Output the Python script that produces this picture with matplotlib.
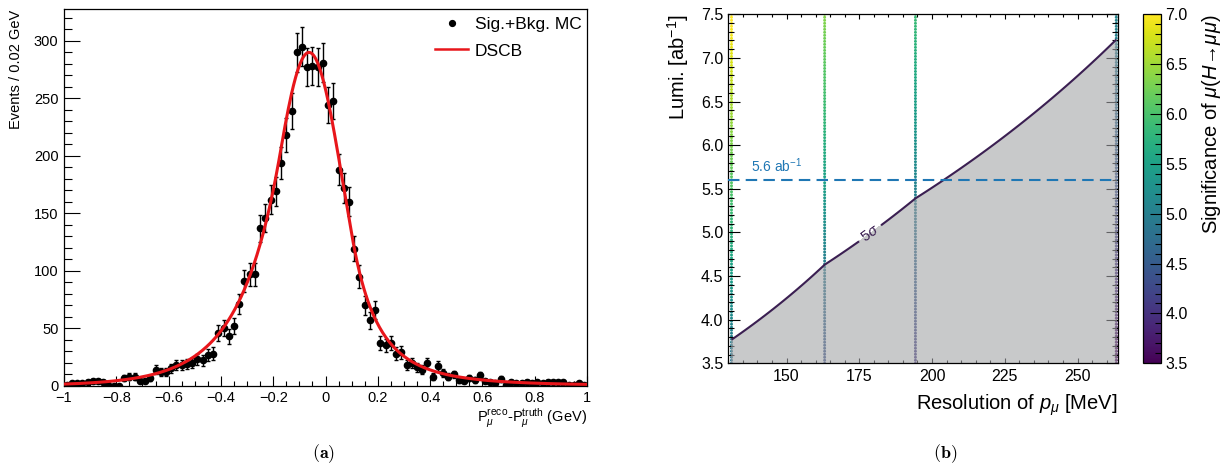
import numpy as np
import matplotlib
matplotlib.use("Agg")
import matplotlib.pyplot as plt
from matplotlib.lines import Line2D
from matplotlib.ticker import MultipleLocator, FuncFormatter, FormatStrFormatter

plt.rcParams["font.family"] = ["Liberation Sans", "DejaVu Sans"]
plt.rcParams["mathtext.fontset"] = "custom"
plt.rcParams["mathtext.rm"] = "Liberation Sans"
plt.rcParams["mathtext.it"] = "Liberation Sans:italic"
plt.rcParams["mathtext.bf"] = "Liberation Sans:bold"

# ---------------- (a) momentum residual histogram ----------------
hist_range = (-1.0, 1.0)
n_bins = 100
counts = [
    1, 2, 2, 2, 3, 4, 4, 3, 1, 0,
    0, 7, 8, 8, 4, 4, 7, 14, 12, 12,
    15, 18, 18, 19, 20, 23, 22, 27, 28, 46,
    50, 43, 52, 71, 91, 97, 97, 137, 146, 162,
    169, 194, 218, 239, 290, 295, 277, 278, 277, 281,
    244, 248, 188, 172, 160, 119, 95, 70, 57, 66,
    37, 35, 37, 28, 29, 18, 20, 16, 14, 20,
    8, 17, 11, 8, 10, 5, 4, 7, 5, 9,
    4, 3, 2, 6, 1, 3, 2, 2, 3, 2,
    3, 2, 3, 3, 3, 3, 1, 1, 2, 1,
]

# double-sided Crystal Ball fit parameters
dscb_norm = 290.0
dscb_mean = -0.063
dscb_sigma = 0.13
dscb_alpha_lo, dscb_n_lo = 0.85, 30.0
dscb_alpha_hi, dscb_n_hi = 1.3, 4.0

# ---------------- (b) luminosity vs. resolution scan ----------------
resolution_mev = [131.1, 163.1, 194.3, 263.3]
lumi_5sigma = [3.77, 4.63, 5.39, 7.21]   # luminosity giving 5 sigma at each resolution
target_lumi = 5.6
sig_range = (3.5, 7.0)


def dscb(x):
    t = (x - dscb_mean) / dscb_sigma
    y = np.exp(-0.5 * t ** 2)
    lo = t < -dscb_alpha_lo
    hi = t > dscb_alpha_hi
    y[lo] = np.exp(-0.5 * dscb_alpha_lo ** 2) * (
        1 + dscb_alpha_lo * (-t[lo] - dscb_alpha_lo) / dscb_n_lo) ** (-dscb_n_lo)
    y[hi] = np.exp(-0.5 * dscb_alpha_hi ** 2) * (
        1 + dscb_alpha_hi * (t[hi] - dscb_alpha_hi) / dscb_n_hi) ** (-dscb_n_hi)
    return dscb_norm * y


fig = plt.figure(figsize=(12.32, 4.71), dpi=100)

# ---------- panel (a) ----------
ax = fig.add_axes([64 / 1232, 1 - 385.7 / 471, 523 / 1232, 376.4 / 471])
edges = np.linspace(hist_range[0], hist_range[1], n_bins + 1)
centers = 0.5 * (edges[:-1] + edges[1:])
vals = np.asarray(counts, dtype=float)
ax.errorbar(centers, vals, yerr=np.sqrt(vals), fmt="o", color="black",
            ms=4.5, elinewidth=1.0, capsize=1.3, capthick=1.0, zorder=3)
xf = np.linspace(hist_range[0], hist_range[1], 500)
ax.plot(xf, dscb(xf), color="#e8161b", lw=2.2, zorder=4)

ax.set_xlim(*hist_range)
ax.set_ylim(0, 327.5)
ax.xaxis.set_major_locator(MultipleLocator(0.2))
ax.xaxis.set_minor_locator(MultipleLocator(0.05))
ax.yaxis.set_major_locator(MultipleLocator(50))
ax.yaxis.set_minor_locator(MultipleLocator(10))
ax.xaxis.set_major_formatter(FuncFormatter(
    lambda v, p: f"{round(v, 6) + 0.0:g}".replace("-", "\u2212")))
ax.tick_params(which="both", direction="in", top=False, right=False,
               labelsize=10.5, width=0.8)
ax.tick_params(axis="y", which="major", length=11.5, pad=4)
ax.tick_params(axis="y", which="minor", length=5.6)
ax.tick_params(axis="x", which="major", length=7.2, pad=4)
ax.tick_params(axis="x", which="minor", length=3.6)
for s in ax.spines.values():
    s.set_linewidth(0.9)

ax.set_ylabel("Events / 0.02 GeV", fontsize=10.5, loc="top")
ax.yaxis.set_label_coords(-0.078, 1.0)
ax.set_xlabel(r"P$_{\mu}^{\rm reco}$-P$_{\mu}^{\rm truth}$ (GeV)",
              fontsize=10.5, loc="right")
ax.xaxis.set_label_coords(1.0, -0.054)

handles = [Line2D([], [], marker="o", color="black", ls="none", ms=4.2),
           Line2D([], [], color="#e8161b", lw=1.8)]
ax.legend(handles, ["Sig.+Bkg. MC", "DSCB"], loc="upper right",
          bbox_to_anchor=(0.990, 0.981), frameon=False, fontsize=12.5,
          borderpad=0, borderaxespad=0, handlelength=1.9,
          handletextpad=0.4, labelspacing=0.68)

# ---------- panel (b) ----------
bx = fig.add_axes([728.3 / 1232, 1 - 363.3 / 471, 389.4 / 1232, 349 / 471])
res = np.asarray(resolution_mev)
l5 = np.asarray(lumi_5sigma)
lumi_grid = np.linspace(3.5, 7.5, 117)
# significance grows with the square root of the integrated luminosity
sig = 5.0 * np.sqrt(lumi_grid[:, None] / l5[None, :])

RR, LL = np.meshgrid(res, lumi_grid)
sc = bx.scatter(RR.ravel(), LL.ravel(), c=sig.ravel(), cmap="viridis",
                vmin=sig_range[0], vmax=sig_range[1], marker="o", s=4.5,
                linewidths=0, zorder=1)
bx.contourf(res, lumi_grid, sig, levels=[0, 5], colors=["#a4a5a8"],
            alpha=0.6, zorder=2)
cs = bx.contour(res, lumi_grid, sig, levels=[5], colors=["#3b1f52"],
                linewidths=1.5, zorder=3)
bx.clabel(cs, fmt={5: r"5$\sigma$"}, manual=[(178.7, 4.99)], fontsize=10.5,
          inline=True, inline_spacing=4)

bx.axhline(target_lumi, color="#1f77b4", ls=(0, (5.5, 3.0)), lw=1.5, zorder=4)
bx.text(137.8, target_lumi + 0.06, r"5.6 ab$^{-1}$", color="#1f77b4",
        fontsize=10, ha="left", va="bottom", zorder=5)

bx.set_xlim(130.0, 263.8)
bx.set_ylim(3.5, 7.5)
bx.xaxis.set_major_locator(MultipleLocator(25))
bx.xaxis.set_minor_locator(MultipleLocator(5))
bx.yaxis.set_major_locator(MultipleLocator(0.5))
bx.yaxis.set_minor_locator(MultipleLocator(0.1))
bx.yaxis.set_major_formatter(FormatStrFormatter("%.1f"))
bx.tick_params(which="both", direction="in", top=True, right=True,
               labelsize=11.5, width=0.8)
bx.tick_params(axis="y", which="major", length=8.6, pad=3.5)
bx.tick_params(axis="y", which="minor", length=4.3)
bx.tick_params(axis="x", which="major", length=3.8, pad=4)
bx.tick_params(axis="x", which="minor", length=2.3)
for s in bx.spines.values():
    s.set_linewidth(0.9)

bx.set_xlabel(r"Resolution of $p_{\mu}$ [MeV]", fontsize=14.5, loc="right")
bx.xaxis.set_label_coords(1.0, -0.085)
bx.set_ylabel(r"Lumi. [ab$^{-1}$]", fontsize=14.5, loc="top")
bx.yaxis.set_label_coords(-0.095, 1.0)

cax = fig.add_axes([1143 / 1232, 1 - 363.3 / 471, 18 / 1232, 349 / 471])
cb = fig.colorbar(sc, cax=cax)
cb.set_ticks(np.arange(3.5, 7.01, 0.5))
cb.ax.yaxis.set_minor_locator(MultipleLocator(0.1))
cb.ax.yaxis.set_major_formatter(FormatStrFormatter("%.1f"))
cb.ax.tick_params(which="both", direction="in", right=True, left=False,
                  labelsize=11.5, width=0.8)
cb.ax.tick_params(which="major", length=8.0, pad=3)
cb.ax.tick_params(which="minor", length=4.3)
cb.outline.set_linewidth(0.9)
cb.set_label(r"Significance of $\mu(H\!\rightarrow\!\mu\mu)$", fontsize=14.5,
             loc="top")
cb.ax.yaxis.set_label_coords(3.15, 1.0)

# ---------- captions ----------
fig.text(324 / 1232, 1 - 454 / 471, r"$\mathbf{(a)}$", math_fontfamily="cm",
         fontsize=13, ha="center", va="center")
fig.text(945 / 1232, 1 - 454 / 471, r"$\mathbf{(b)}$", math_fontfamily="cm",
         fontsize=13, ha="center", va="center")

fig.savefig("out.png", dpi=100)
